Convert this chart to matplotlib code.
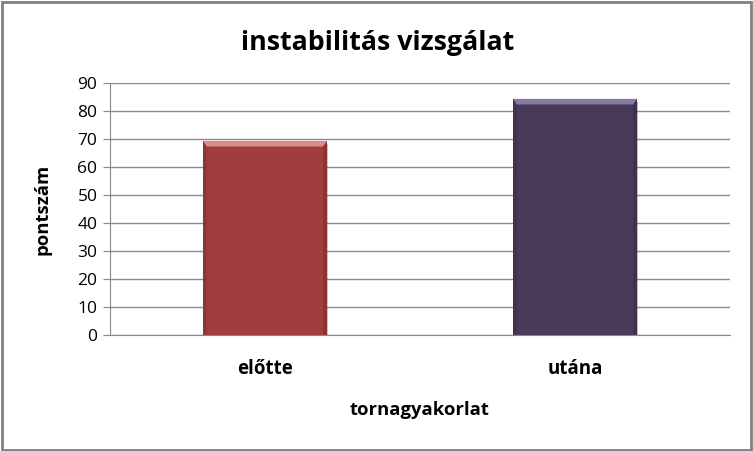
import matplotlib
matplotlib.use("Agg")
import matplotlib.pyplot as plt
import matplotlib.patheffects as pe
from matplotlib.patches import Rectangle, Polygon

plt.rcParams['font.family'] = ['Open Sans', 'DejaVu Sans']

categories = ["előtte", "utána"]
values = [69.3, 84.3]
colors = ["#A03D3D", "#4A3A5A"]
light = ["#D98A8A", "#8A7AA0"]
dark = ["#6E2525", "#2E2340"]

fig = plt.figure(figsize=(7.53, 4.51), dpi=100)
ax = fig.add_axes([0.146, 0.2572, 0.8235, 0.559])

x = range(len(categories))
bars = ax.bar(x, values, width=0.4, color=colors, zorder=3,
              path_effects=[pe.SimplePatchShadow(offset=(1, -2), alpha=0.25), pe.Normal()])

# simple bevel on each bar
for b, lc, dc in zip(bars, light, dark):
    x0, y0 = b.get_x(), b.get_y()
    w, h = b.get_width(), b.get_height()
    dx = w * 0.03
    dy = 2.0
    ax.add_patch(Polygon([(x0, y0 + h), (x0 + w, y0 + h), (x0 + w - dx, y0 + h - dy), (x0 + dx, y0 + h - dy)],
                         closed=True, color=lc, zorder=4, lw=0))
    ax.add_patch(Polygon([(x0, y0), (x0 + dx, y0 + 0.6), (x0 + dx, y0 + h - dy), (x0, y0 + h)],
                         closed=True, color=dc, alpha=0.3, zorder=4, lw=0))
    ax.add_patch(Polygon([(x0 + w, y0), (x0 + w - dx, y0 + 0.6), (x0 + w - dx, y0 + h - dy), (x0 + w, y0 + h)],
                         closed=True, color=dc, alpha=0.4, zorder=4, lw=0))

ax.set_xlim(-0.5, 1.5)
ax.set_ylim(0, 90)
ax.set_yticks(range(0, 91, 10))
ax.set_xticks(list(x))
ax.set_xticklabels(categories, fontsize=13.5, fontweight='bold')
ax.tick_params(axis='x', length=0, pad=17)
ax.tick_params(axis='y', length=5, color='#888888', labelsize=12.5, pad=4)
ax.yaxis.grid(True, color='#8C8C8C', linewidth=1, zorder=0)
ax.set_axisbelow(True)
for s in ['top', 'right']:
    ax.spines[s].set_visible(False)
ax.spines['left'].set_color('#888888')
ax.spines['bottom'].set_color('#888888')

ax.set_xlabel("tornagyakorlat", fontsize=13.3, fontweight='bold', labelpad=16)
ax.set_ylabel("pontszám", fontsize=13.3, fontweight='bold', labelpad=19)
fig.text(0.502, 0.905, "instabilitás vizsgálat", ha='center', va='center',
         fontsize=19.3, fontweight='bold')

fig.patches.append(Rectangle((0.002, 0.003), 0.995, 0.993, transform=fig.transFigure,
                             fill=False, edgecolor='#808080', linewidth=2))

fig.savefig("out.png", dpi=100)
